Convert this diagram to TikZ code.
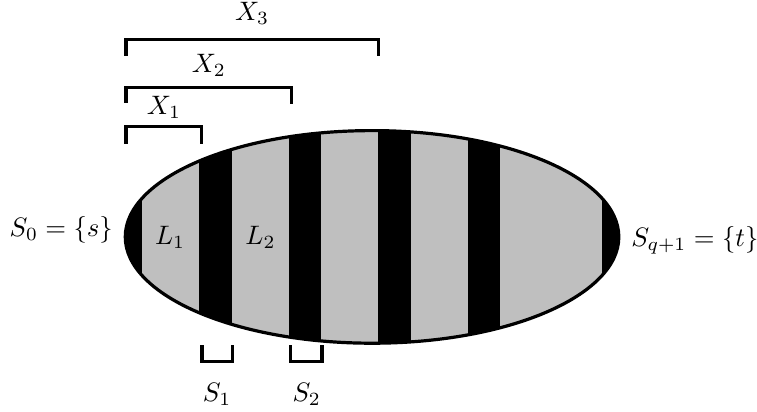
\documentclass[tikz,border=0pt]{standalone}
\usetikzlibrary{positioning}
\definecolor{mLayer}{gray}{0.75}

\begin{document}
\begin{tikzpicture}[
  outline/.style={very thick},
  brace/.style={very thick, line cap=rect},
  sepbar/.style={fill=black},
]
  \useasboundingbox (-4.9,-2.3) rectangle (5.07,3.12);

  % Layers and separators
  \begin{scope}
    \clip (0,0) ellipse [x radius=3.25cm, y radius=1.4cm];
    \fill[mLayer] (-3.3,-1.5) rectangle (3.3,1.5);
    \fill[sepbar] (-3.3,-1.5) rectangle (-3.03,1.5);
    \foreach \x in {-2.28,-1.10,0.08,1.26}
      \fill[sepbar] (\x,-1.5) rectangle ++(0.43,3);
    \fill[sepbar] (3.03,-1.5) rectangle (3.3,1.5);
  \end{scope}
  \draw[outline] (0,0) ellipse [x radius=3.25cm, y radius=1.4cm];

  % End sets
  \node[anchor=base east] (src) at (-3.29,0) {$S_0 = \{s\}$};
  \node[anchor=base west] (snk) at (3.29,-0.13) {$S_{q+1} = \{t\}$};

  % Layer labels
  \node (l1) at (-2.66,0) {$L_1$};
  \node (l2) at (-1.47,0) {$L_2$};

  % X brackets
  \draw[brace] (-3.24,1.25) |- (-2.25,1.45) -- ++(0,-0.2);
  \node (x1) at (-2.74,1.70) {$X_1$};
  \draw[brace] (-3.24,1.78) |- (-1.06,1.97) -- ++(0,-0.2);
  \node (x2) at (-2.15,2.26) {$X_2$};
  \draw[brace] (-3.24,2.41) |- (0.09,2.60) -- ++(0,-0.2);
  \node (x3) at (-1.58,2.95) {$X_3$};

  % S brackets
  \draw[brace] (-2.24,-1.45) |- (-1.84,-1.645) -- ++(0,0.2);
  \node (s1) at (-2.04,-2.07) {$S_1$};
  \draw[brace] (-1.07,-1.45) |- (-0.66,-1.645) -- ++(0,0.2);
  \node (s2) at (-0.86,-2.07) {$S_2$};
\end{tikzpicture}
\end{document}
